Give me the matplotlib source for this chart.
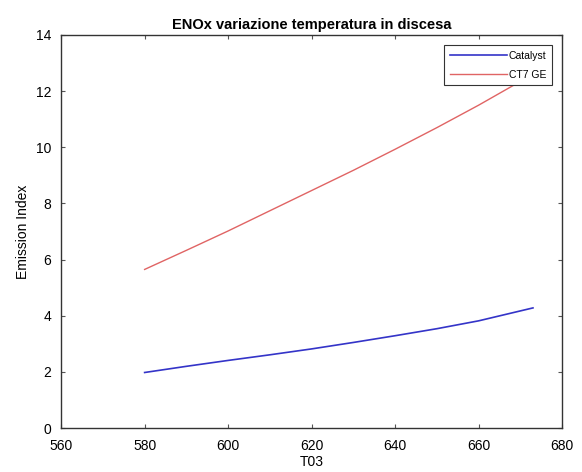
import matplotlib.pyplot as plt

plt.rcParams['font.family'] = ['Liberation Sans', 'DejaVu Sans']

# Emission index vs T03 during descent
t03 = [580, 590, 600, 610, 620, 630, 640, 650, 660, 673]
catalyst = [1.98, 2.2, 2.41, 2.61, 2.82, 3.05, 3.29, 3.54, 3.82, 4.28]
ct7_ge = [5.65, 6.33, 7.02, 7.74, 8.46, 9.18, 9.93, 10.7, 11.5, 12.6]

xticks = [560, 580, 600, 620, 640, 660, 680]
yticks = [0, 2, 4, 6, 8, 10, 12, 14]

fig = plt.figure(figsize=(5.82, 4.72), dpi=100)
ax = fig.add_axes([0.105, 0.093, 0.861, 0.833])

ax.plot(t03, catalyst, color='#3434c8', lw=1.2, label='Catalyst')
ax.plot(t03, ct7_ge, color='#e06464', lw=1.0, label='CT7 GE')

ax.set_xlim(560, 680)
ax.set_ylim(0, 14)
ax.set_xticks(xticks)
ax.set_yticks(yticks)
ax.tick_params(direction='in', top=True, right=True, labelsize=10, length=3,
               color='#555555')
ax.tick_params(axis='x', pad=8)
ax.tick_params(axis='y', pad=7)
for s in ax.spines.values():
    s.set_linewidth(1.0)
    s.set_color('#333333')

ax.set_xlabel('T03', fontsize=10, labelpad=1)
ax.set_ylabel('Emission Index', fontsize=10, labelpad=4)
ax.set_title('ENOx variazione temperatura in discesa', fontsize=10.5,
             fontweight='bold', pad=4)

leg = ax.legend(loc='upper right', fontsize=7.5, frameon=True, fancybox=False,
                framealpha=1, edgecolor='#333333', handlelength=5.5,
                borderpad=0.5, labelspacing=0.9, handletextpad=0.2,
                borderaxespad=1.0)
leg.get_frame().set_linewidth(0.8)

plt.savefig('out.png', dpi=100)
